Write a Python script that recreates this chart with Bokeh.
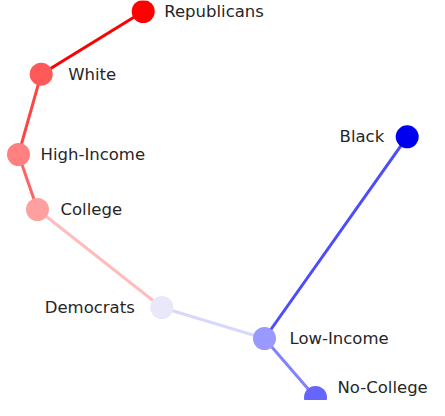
from bokeh.plotting import figure
from bokeh.models import ColumnDataSource, Range1d
from bokeh.embed import file_html
from bokeh.resources import INLINE
from bokeh.core.properties import value, field

# Nodes (layout positions)
names = ["Republicans", "White", "High-Income", "College", "Democrats", "Low-Income", "No-College", "Black"]
node_x = [142.7, 40.7, 18.0, 37.0, 161.3, 264.0, 315.0, 406.7]
node_y = [11.0, 73.7, 154.0, 209.0, 307.0, 338.0, 397.0, 136.3]
node_colors = ["#ff0000", "#ff5a5a", "#ff8080", "#ffa0a0", "#e8e8fa", "#9999ff", "#6666ff", "#0000ee"]

# Edges
edge_src = ["Republicans", "White", "High-Income", "College", "Democrats", "Low-Income", "Low-Income"]
edge_dst = ["White", "High-Income", "College", "Democrats", "Low-Income", "No-College", "Black"]
edge_colors = ["#ff0000", "#ff4444", "#ff6464", "#ffbcbc", "#d8d8fa", "#8282ff", "#4c4cff"]

# Label placement
label_align = ["left", "left", "left", "left", "right", "left", "left", "right"]
label_dx = [21, 27, 22, 23, -27, 25, 22, -23]
label_dy = [0, 0, 0, 0, 0, 0, -10, 0]

pos = {n: (x, y) for n, x, y in zip(names, node_x, node_y)}

W, H = 429, 400
p = figure(width=W, height=H, output_backend="svg", toolbar_location=None,
           x_range=Range1d(0, W), y_range=Range1d(H, 0),
           min_border=0, outline_line_color=None)
p.axis.visible = False
p.grid.visible = False
p.background_fill_color = "white"
p.border_fill_color = "white"

esrc = ColumnDataSource(dict(
    x0=[pos[s][0] for s in edge_src], y0=[pos[s][1] for s in edge_src],
    x1=[pos[d][0] for d in edge_dst], y1=[pos[d][1] for d in edge_dst],
    c=edge_colors))
p.segment("x0", "y0", "x1", "y1", source=esrc, line_color="c", line_width=3)

nsrc = ColumnDataSource(dict(x=node_x, y=node_y, c=node_colors, name=names,
                             dx=label_dx, dy=label_dy, align=label_align))
p.scatter("x", "y", source=nsrc, size=23, fill_color="c", line_color=None)

p.text("x", "y", text="name", source=nsrc, x_offset=field("dx"), y_offset=field("dy"),
       text_align=field("align"), text_baseline="middle", text_font=value("DejaVu Sans"),
       text_font_size="16.5px", text_color="#262626")

open("out.html", "w").write(file_html(p, INLINE))
